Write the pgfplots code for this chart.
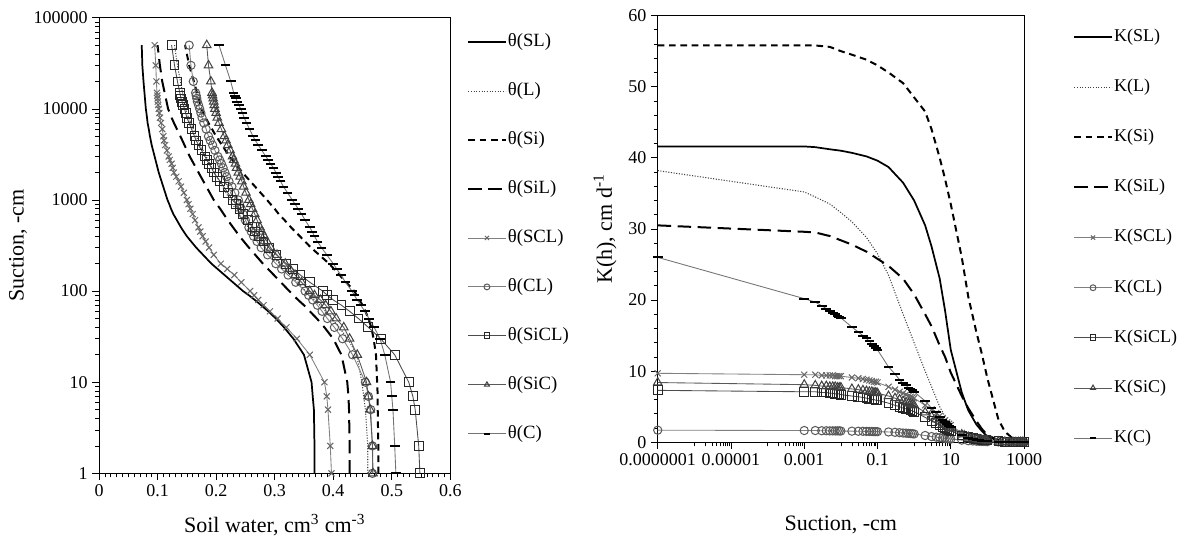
\documentclass[border=0pt]{standalone}
\usepackage{fontspec}
\setmainfont{Liberation Serif}
\usepackage{pgfplots}
\pgfplotsset{compat=1.18}
\usepackage{pgfplotstable}

% water retention, theta at suction h (cm): soils drawn as plain lines
\pgfplotstableread{
h SL L Si SiL
1 .368 .459 .477 .428
2 .368 .459 .477 .428
5 .367 .455 .476 .427
7 .365 .452 .476 .426
10 .363 .449 .475 .424
20 .350 .440 .473 .414
30 .332 .425 .469 .400
40 .316 .410 .465 .385
50 .302 .398 .460 .372
60 .289 .387 .455 .360
70 .277 .377 .450 .350
80 .266 .368 .445 .340
90 .256 .360 .440 .332
100 .246 .353 .436 .325
200 .192 .308 .393 .280
300 .166 .283 .362 .256
400 .150 .267 .343 .240
500 .140 .255 .328 .229
600 .133 .246 .317 .220
700 .127 .239 .307 .213
800 .123 .233 .300 .207
900 .120 .228 .293 .201
1000 .117 .224 .287 .196
2000 .102 .197 .245 .170
3000 .095 .183 .223 .155
4000 .090 .173 .210 .146
5000 .087 .166 .200 .139
6000 .085 .161 .193 .133
7000 .083 .157 .187 .128
8000 .082 .153 .182 .124
9000 .081 .150 .178 .121
10000 .080 .148 .175 .118
20000 .076 .139 .162 .108
30000 .074 .134 .154 .104
50000 .073 .129 .147 .100
}\thetaline

% water retention: soils drawn with markers
\pgfplotstableread{
h SCL CL SiCL SiC C
1 .397 .467 .548 .468 .507
2 .395 .467 .546 .467 .505
5 .391 .464 .540 .463 .502
7 .389 .460 .536 .460 .500
10 .385 .455 .529 .457 .498
20 .360 .433 .505 .441 .488
30 .338 .416 .481 .428 .480
40 .320 .402 .460 .418 .470
50 .305 .390 .443 .405 .461
60 .292 .381 .428 .396 .454
70 .281 .373 .414 .387 .447
80 .272 .365 .400 .378 .441
90 .265 .358 .390 .368 .436
100 .258 .352 .382 .360 .432
125 .243 .336 .360 .346 .421
150 .231 .323 .344 .335 .413
175 .219 .312 .331 .326 .406
200 .208 .302 .320 .318 .400
250 .196 .288 .303 .304 .389
300 .188 .277 .290 .293 .380
350 .182 .270 .281 .287 .373
400 .177 .264 .273 .282 .368
450 .173 .260 .267 .278 .364
500 .170 .256 .262 .275 .360
600 .164 .250 .254 .270 .352
700 .160 .246 .246 .266 .346
800 .156 .243 .240 .262 .340
900 .153 .240 .234 .259 .335
1000 .150 .238 .228 .256 .330
1200 .145 .232 .220 .251 .322
1400 .140 .227 .213 .247 .315
1600 .136 .222 .207 .244 .310
1800 .132 .218 .201 .241 .306
2000 .128 .215 .196 .238 .302
2250 .126 .212 .192 .235 .298
2500 .124 .209 .188 .233 .293
2750 .121 .206 .184 .230 .289
3000 .119 .203 .181 .228 .285
3500 .116 .198 .175 .224 .278
4000 .113 .194 .170 .220 .272
4500 .111 .190 .166 .217 .267
5000 .110 .187 .163 .214 .263
6000 .108 .183 .158 .209 .257
7000 .106 .179 .154 .205 .252
8000 .104 .176 .150 .202 .248
9000 .103 .174 .148 .200 .245
10000 .102 .172 .146 .198 .242
11000 .101 .170 .144 .197 .239
12000 .1005 .168 .142 .196 .236
13000 .100 .167 .140 .195 .234
14000 .0995 .166 .139 .194 .232
15000 .099 .165 .138 .193 .230
20000 .098 .161 .134 .191 .225
30000 .097 .157 .129 .187 .216
50000 .095 .154 .124 .184 .205
}\thetamark

% conductivity, soils drawn with markers
\pgfplotstableread{
h SCL CL SiCL SiC C
1e-7 9.7 1.70 7.3 8.4 26.0
0.001 9.5 1.65 7.1 8.1 20.2
0.002 9.5 1.65 7.1 8.0 19.7
0.003 9.4 1.62 7.0 7.9 19.2
0.004 9.4 1.62 7.0 7.9 18.8
0.005 9.4 1.60 6.9 7.8 18.5
0.006 9.4 1.60 6.9 7.8 18.2
0.007 9.3 1.60 6.8 7.8 18.0
0.008 9.3 1.60 6.8 7.7 17.8
0.009 9.3 1.60 6.8 7.7 17.6
0.01 9.3 1.58 6.7 7.7 17.5
0.02 9.1 1.56 6.5 7.5 16.2
0.03 9.0 1.55 6.4 7.4 15.5
0.04 8.9 1.54 6.3 7.3 15.0
0.05 8.8 1.53 6.2 7.2 14.6
0.06 8.7 1.52 6.1 7.1 14.2
0.07 8.6 1.51 6.0 7.1 13.8
0.08 8.5 1.50 6.0 7.0 13.5
0.09 8.5 1.50 5.9 7.0 13.2
0.1 8.4 1.49 5.9 6.9 13.0
0.2 7.8 1.45 5.5 6.5 10.6
0.3 7.4 1.40 5.2 6.2 9.6
0.4 7.1 1.35 5.0 6.0 8.8
0.5 6.9 1.30 4.8 5.8 8.3
0.6 6.7 1.28 4.7 5.6 8.0
0.7 6.5 1.25 4.6 5.5 7.7
0.8 6.4 1.22 4.5 5.4 7.5
0.9 6.3 1.20 4.4 5.3 7.3
1 6.2 1.17 4.3 5.2 7.1
2 5.2 0.95 3.5 4.2 5.8
3 4.6 0.80 3.0 3.6 4.8
4 4.1 0.72 2.7 3.2 4.2
5 3.7 0.65 2.4 2.9 3.6
6 3.4 0.60 2.2 2.6 3.2
7 3.1 0.55 2.0 2.4 2.8
8 2.8 0.52 1.8 2.2 2.5
9 2.6 0.48 1.7 2.0 2.3
10 2.4 0.45 1.6 1.9 2.1
20 1.3 0.30 0.95 1.1 1.0
30 0.8 0.22 0.70 0.75 0.6
40 0.6 0.18 0.55 0.55 0.4
50 0.45 0.15 0.45 0.45 0.3
60 0.35 0.13 0.38 0.37 0.25
70 0.30 0.12 0.33 0.32 0.2
80 0.25 0.11 0.30 0.28 0.18
90 0.20 0.10 0.27 0.25 0.15
100 0.18 0.09 0.25 0.22 0.13
200 0.07 0.05 0.13 0.10 0.05
300 0.04 0.04 0.09 0.06 0.03
400 0.03 0.03 0.07 0.045 0.02
500 0.02 0.03 0.06 0.035 0.015
600 0.015 0.02 0.05 0.03 0.01
700 0.012 0.02 0.045 0.025 0.01
800 0.01 0.02 0.04 0.022 0.01
900 0.008 0.02 0.035 0.02 0.01
1000 0.007 0.015 0.03 0.018 0.01
}\kmark

% conductivity, soils drawn as plain lines
\pgfplotstableread{
h SL L Si SiL
1e-7 41.6 38.2 55.8 30.5
0.001 41.6 35.2 55.8 29.6
0.002 41.5 34.5 55.8 29.5
0.005 41.2 33.5 55.6 29.0
0.01 41.0 32.3 55.0 28.4
0.02 40.7 31.0 54.5 27.8
0.05 40.2 28.8 53.8 26.8
0.1 39.6 26.5 53.0 25.8
0.2 38.7 23.5 52.0 24.8
0.5 36.5 18.0 50.5 23.0
1 34.0 14.0 48.5 20.8
2 30.5 10.0 46.5 18.0
3 27.5 7.8 44.0 16.3
5 23.0 5.0 40.0 13.6
7 18.5 3.6 37.0 12.0
10 13.0 2.4 33.5 9.8
20 7.0 1.1 26.0 6.5
30 4.5 0.6 20.5 4.8
50 2.5 0.3 15.5 3.0
70 1.6 0.2 12.5 1.9
100 0.8 0.1 9.0 1.0
200 0.2 0.05 3.2 0.3
300 0.1 0.03 1.5 0.15
500 0.05 0.02 0.5 0.08
700 0.03 0.01 0.25 0.05
1000 0.02 0.01 0.1 0.03
}\kline

\pgfplotsset{
  sSL/.style={black, line width=1.3pt},
  sL/.style={black!75, line width=0.8pt, dash pattern=on 0.8pt off 1.2pt},
  sSi/.style={black, line width=1.5pt, dash pattern=on 5pt off 3.5pt},
  sSiL/.style={black, line width=1.5pt, dash pattern=on 10pt off 5pt},
  sSCL/.style={black!50, line width=0.65pt, mark=x, mark size=3.2pt, mark options={black!60, line width=0.75pt}},
  sCL/.style={black!50, line width=0.65pt, mark=o, mark size=3.1pt, mark options={black!65, line width=0.75pt}},
  sSiCL/.style={black!70, line width=0.65pt, mark=square, mark size=3.3pt, mark options={black!85, line width=0.75pt}},
  sSiC/.style={black!65, line width=0.65pt, mark=triangle, mark size=3.7pt, mark options={black!75, line width=0.75pt}},
  sC/.style={black!55, line width=0.65pt, mark=-, mark size=3.6pt, mark options={black, line width=1.5pt}},
  common/.style={
    scale only axis, clip=false,
    axis line style={black, line width=0.6pt},
    tick style={black, line width=0.5pt},
    tick align=outside, major tick length=5pt, minor tick length=3pt,
    xtick pos=bottom, ytick pos=left,
    tick label style={font=\fontsize{13.5}{15}\selectfont},
    /pgf/number format/assume math mode=true,
    legend cell align=left,
    legend image code/.code={\draw[mark repeat=2, mark phase=2, ##1, mark size=2.2pt]
      plot coordinates {(0pt,0pt) (14pt,0pt) (28pt,0pt)};},
  },
}

\begin{document}
\begin{tikzpicture}
\useasboundingbox (0,0) rectangle (885.75pt,409.5pt);

\begin{axis}[common,
  at={(74.25pt,54.5pt)}, anchor=south west,
  width=263.5pt, height=341.7pt,
  xmin=0, xmax=0.6,
  xtick={0,0.1,0.2,0.3,0.4,0.5,0.6},
  xticklabels={0,0.1,0.2,0.3,0.4,0.5,0.6},
  minor x tick num=9,
  ymode=log, ymin=1, ymax=100000,
  ytick={1,10,100,1000,10000,100000},
  yticklabels={1,10,100,1000,10000,100000},
  xlabel={Soil water, cm\textsuperscript{3} cm\textsuperscript{-3}},
  ylabel={Suction, -cm},
  every axis x label/.style={at={(axis description cs:0.5,-0.1135)}, anchor=center,
    font=\fontsize{16.5}{19}\selectfont},
  every axis y label/.style={at={(axis description cs:-0.2306,0.5)}, rotate=90, anchor=center,
    font=\fontsize{16.5}{19}\selectfont},
  legend style={draw=none, fill=none, at={(1.0475,0.968)}, anchor=north west,
    font=\fontsize{14}{15}\selectfont, row sep=22.2pt, inner sep=0pt,
    nodes={inner sep=1pt, text height=9.5pt, text depth=3pt}},
]
\addplot[sSL] table[x=SL, y=h] {\thetaline};
\addlegendentry{θ(SL)}
\addplot[sL] table[x=L, y=h] {\thetaline};
\addlegendentry{θ(L)}
\addplot[sSi] table[x=Si, y=h] {\thetaline};
\addlegendentry{θ(Si)}
\addplot[sSiL] table[x=SiL, y=h] {\thetaline};
\addlegendentry{θ(SiL)}
\addplot[sSCL] table[x=SCL, y=h] {\thetamark};
\addlegendentry{θ(SCL)}
\addplot[sCL] table[x=CL, y=h] {\thetamark};
\addlegendentry{θ(CL)}
\addplot[sSiCL] table[x=SiCL, y=h] {\thetamark};
\addlegendentry{θ(SiCL)}
\addplot[sSiC] table[x=SiC, y=h] {\thetamark};
\addlegendentry{θ(SiC)}
\addplot[sC] table[x=C, y=h] {\thetamark};
\addlegendentry{θ(C)}
\end{axis}

\begin{axis}[common,
  at={(493.3pt,77.8pt)}, anchor=south west,
  width=274.7pt, height=320pt,
  xmode=log, xmin=1e-7, xmax=1000,
  xtick={1e-7,1e-5,1e-3,0.1,10,1000},
  xticklabels={0.0000001,0.00001,0.001,0.1,10,1000},
  minor xtick={1e-6,2e-6,3e-6,4e-6,5e-6,6e-6,7e-6,8e-6,9e-6,
    1e-4,2e-4,3e-4,4e-4,5e-4,6e-4,7e-4,8e-4,9e-4,
    0.01,0.02,0.03,0.04,0.05,0.06,0.07,0.08,0.09,
    1,2,3,4,5,6,7,8,9,100,200,300,400,500,600,700,800,900},
  ymin=0, ymax=60, ytick={0,10,20,30,40,50,60},
  minor y tick num=4,
  xlabel={Suction, -cm},
  ylabel={K(h), cm d\textsuperscript{-1}},
  every axis x label/.style={at={(axis description cs:0.5,-0.194)}, anchor=center,
    font=\fontsize{16.5}{19}\selectfont},
  every axis y label/.style={at={(axis description cs:-0.144,0.5)}, rotate=90, anchor=center,
    font=\fontsize{16.5}{19}\selectfont},
  legend style={draw=none, fill=none, at={(1.134,0.973)}, anchor=north west,
    font=\fontsize{13.5}{15}\selectfont, row sep=23.1pt, inner sep=0pt,
    nodes={inner sep=1pt, text height=9.5pt, text depth=3pt}},
]
\addplot[sSL] table[x=h, y=SL] {\kline};
\addlegendentry{K(SL)}
\addplot[sL] table[x=h, y=L] {\kline};
\addlegendentry{K(L)}
\addplot[sSi] table[x=h, y=Si] {\kline};
\addlegendentry{K(Si)}
\addplot[sSiL] table[x=h, y=SiL] {\kline};
\addlegendentry{K(SiL)}
\addplot[sSCL] table[x=h, y=SCL] {\kmark};
\addlegendentry{K(SCL)}
\addplot[sCL] table[x=h, y=CL] {\kmark};
\addlegendentry{K(CL)}
\addplot[sSiCL] table[x=h, y=SiCL] {\kmark};
\addlegendentry{K(SiCL)}
\addplot[sSiC] table[x=h, y=SiC] {\kmark};
\addlegendentry{K(SiC)}
\addplot[sC] table[x=h, y=C] {\kmark};
\addlegendentry{K(C)}
\end{axis}
\end{tikzpicture}
\end{document}
